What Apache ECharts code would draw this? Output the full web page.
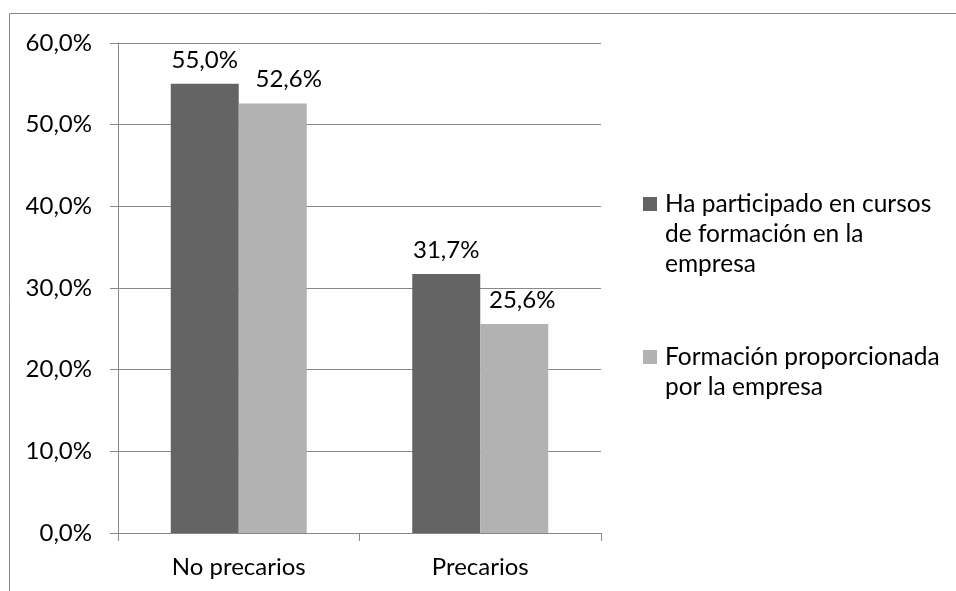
<!DOCTYPE html>
<html><head><meta charset="utf-8">
<script src="https://cdn.jsdelivr.net/npm/echarts@6/dist/echarts.min.js"></script>
<style>html,body{margin:0;padding:0;background:#fff}#c{width:956px;height:591px}</style>
</head><body><div id="c"></div>
<script>
const categories = ['No precarios', 'Precarios'];
const seriesNames = ['Ha participado en cursos de formación en la empresa', 'Formación proporcionada por la empresa'];
const legendLines = [['Ha participado en cursos', 'de formación en la', 'empresa'], ['Formación proporcionada', 'por la empresa']];
const cursos = [55.0, 31.7];
const proporcionada = [52.6, 25.6];
const proporcionadaLabelShift = [16, 8];

const FONT = 'Lato';
const FS = 24;
const fmt = v => v.toFixed(1).replace('.', ',') + '%';
// prepend blank lines so the legend marker lines up with the first text line
const legendText = lines => '\n'.repeat(lines.length - 1) + lines.join('\n');
const chart = echarts.init(document.getElementById('c'), null, {renderer: 'canvas'});
chart.setOption({
  backgroundColor: '#fff',
  animation: false,
  textStyle: {fontFamily: FONT},
  graphic: [{
    type: 'rect', shape: {x: 9.5, y: 13.5, width: 1000, height: 1000},
    style: {fill: 'none', stroke: '#888', lineWidth: 1}, z: -1
  }],
  grid: {left: 118, right: 355, top: 43, bottom: 58},
  legend: {
    orient: 'vertical', left: 643, top: 129, padding: 0, itemWidth: 14, itemHeight: 14, itemGap: 33,
    icon: 'rect',
    formatter: name => legendText(legendLines[seriesNames.indexOf(name)]),
    textStyle: {fontFamily: FONT, fontSize: 24.5, color: '#000', lineHeight: 30, padding: [0, 0, 0, 3]},
    data: seriesNames
  },
  xAxis: {
    type: 'category', data: categories,
    axisLine: {lineStyle: {color: '#888'}},
    axisTick: {show: true, length: 8, lineStyle: {color: '#888'}},
    axisLabel: {fontFamily: FONT, fontSize: FS, color: '#000', margin: 22}
  },
  yAxis: {
    type: 'value', min: 0, max: 60, interval: 10,
    axisLine: {show: true, lineStyle: {color: '#888'}},
    axisTick: {show: true, length: 8, lineStyle: {color: '#888'}},
    splitLine: {lineStyle: {color: '#888'}},
    axisLabel: {fontFamily: FONT, fontSize: FS, color: '#000', margin: 26, formatter: v => fmt(v)}
  },
  series: [
    {name: seriesNames[0], type: 'bar', data: cursos, barWidth: 68, barGap: '0%',
     itemStyle: {color: '#646464'},
     label: {show: true, position: 'top', distance: 12, fontFamily: FONT, fontSize: FS, color: '#000', formatter: p => fmt(p.value)}},
    {name: seriesNames[1], type: 'bar', barWidth: 68,
     data: proporcionada.map((v, i) => ({value: v, label: {offset: [proporcionadaLabelShift[i], 0]}})),
     itemStyle: {color: '#b2b2b2'},
     label: {show: true, position: 'top', distance: 12, fontFamily: FONT, fontSize: FS, color: '#000', formatter: p => fmt(p.value)}}
  ]
});
</script></body></html>
